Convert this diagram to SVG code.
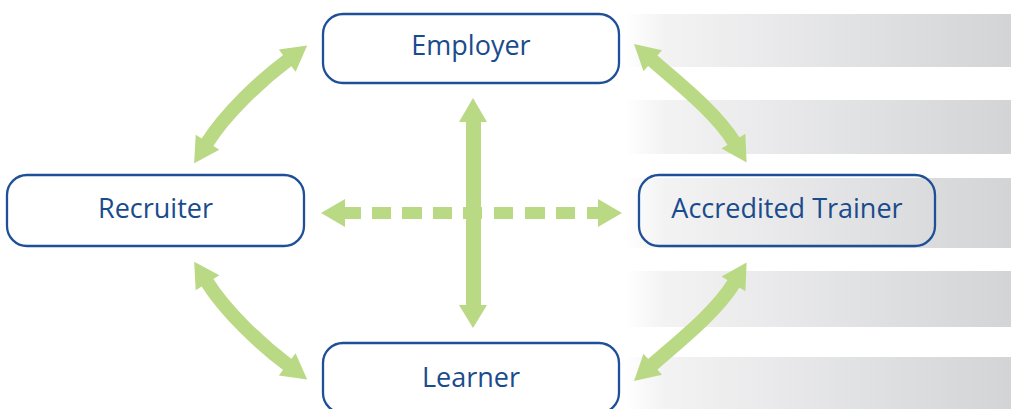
<svg xmlns="http://www.w3.org/2000/svg" width="1011" height="409" viewBox="0 0 1011 409">
  <defs>
    <linearGradient id="band" gradientUnits="userSpaceOnUse" x1="625" y1="0" x2="1011" y2="0">
      <stop offset="0" stop-color="#ffffff"/>
      <stop offset="0.1" stop-color="#f3f3f4"/>
      <stop offset="1" stop-color="#d3d4d6"/>
    </linearGradient>
    <marker id="head" markerUnits="userSpaceOnUse" markerWidth="40" markerHeight="40" refX="1" refY="0" viewBox="-2 -20 40 40" orient="auto-start-reverse" overflow="visible">
      <path d="M0,-14 L25,0 L0,14 Z" fill="#bad985"/>
    </marker>
  </defs>
  <style>
    .band { fill: url(#band); }
    .box { fill: #ffffff; stroke: #1f5097; stroke-width: 2.3; }
    .label { font-family: "Open Sans", "Noto Sans", sans-serif; font-size: 27px; fill: #1a4b8c; text-anchor: middle; }
    .green { fill: #bad985; }
    .curve { fill: none; stroke: #bad985; stroke-width: 14; marker-start: url(#head); marker-end: url(#head); }
  </style>
  <rect width="1011" height="409" fill="#ffffff"/>
  <g id="background">
    <rect class="band" x="625" y="14" width="386" height="53"/>
    <rect class="band" x="625" y="100" width="386" height="54"/>
    <rect class="band" x="625" y="178" width="386" height="70"/>
    <rect class="band" x="625" y="271" width="386" height="56"/>
    <rect class="band" x="625" y="357" width="386" height="52"/>
  </g>
  <g id="connectors">
    <path class="curve" d="M207,143 C226,113 260,81 288,60"/>
    <path class="curve" d="M652,60 C678,83 715.5,112 734,142"/>
    <path class="curve" d="M207,282 C226,312 260,344 288,365"/>
    <path class="curve" d="M734,283 C715.5,313 678,342 652,365"/>
    <g id="dashed-arrow" class="green">
      <polygon points="321,213 345,199 345,227"/>
      <rect x="344" y="207" width="17" height="12"/>
      <rect x="372" y="207" width="19" height="12"/>
      <rect x="402" y="207" width="20" height="12"/>
      <rect x="433" y="207" width="19" height="12"/>
      <rect x="463" y="207" width="19" height="12"/>
      <rect x="494" y="207" width="19" height="12"/>
      <rect x="525" y="207" width="20" height="12"/>
      <rect x="556" y="207" width="19" height="12"/>
      <rect x="587" y="207" width="12" height="12"/>
      <polygon points="622,213 598,199 598,227"/>
    </g>
    <g id="vertical-arrow" class="green">
      <polygon points="473,98 487,122 459,122"/>
      <rect x="466" y="121" width="15" height="185"/>
      <polygon points="473,328 487,305 459,305"/>
    </g>
  </g>
  <g id="employer">
    <rect class="box" x="323" y="14" width="296" height="69" rx="20"/>
    <text class="label" x="471" y="55">Employer</text>
  </g>
  <g id="recruiter">
    <rect class="box" x="7" y="175" width="297" height="71" rx="20"/>
    <text class="label" x="155.5" y="218">Recruiter</text>
  </g>
  <g id="accredited-trainer">
    <rect class="box" x="639" y="175" width="296" height="71" rx="20" style="fill:none"/>
    <text class="label" x="787" y="218">Accredited Trainer</text>
  </g>
  <g id="learner">
    <rect class="box" x="323" y="343" width="296" height="70" rx="20"/>
    <text class="label" x="471" y="387">Learner</text>
  </g>
</svg>
